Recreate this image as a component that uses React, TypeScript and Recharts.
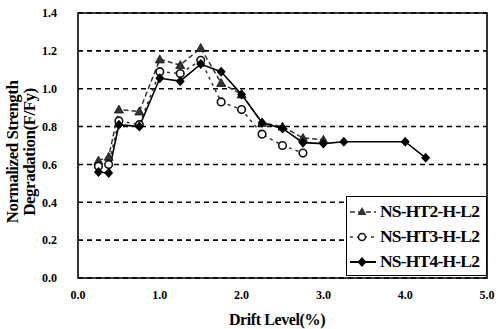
import React from "react";
import { LineChart, Line, XAxis, YAxis, CartesianGrid, ReferenceArea, Legend, Label } from "recharts";

const driftHT2 = [0.25, 0.375, 0.5, 0.75, 1.0, 1.25, 1.5, 1.75, 2.0, 2.25, 2.5, 2.75, 3.0];
const strengthHT2 = [0.62, 0.64, 0.89, 0.88, 1.155, 1.125, 1.215, 1.03, 0.97, 0.82, 0.8, 0.74, 0.73];

const driftHT3 = [0.25, 0.375, 0.5, 0.75, 1.0, 1.25, 1.5, 1.75, 2.0, 2.25, 2.5, 2.75];
const strengthHT3 = [0.59, 0.6, 0.83, 0.81, 1.09, 1.08, 1.15, 0.93, 0.89, 0.76, 0.7, 0.66];

const driftHT4 = [0.25, 0.375, 0.5, 0.75, 1.0, 1.25, 1.5, 1.75, 2.0, 2.25, 2.5, 2.75, 3.0, 3.25, 4.0, 4.25];
const strengthHT4 = [0.56, 0.555, 0.81, 0.8, 1.055, 1.04, 1.13, 1.09, 0.97, 0.82, 0.79, 0.715, 0.71, 0.72, 0.72, 0.635];

const xTicks = [0, 1, 2, 3, 4, 5];
const yTicks = [0, 0.2, 0.4, 0.6, 0.8, 1.0, 1.2, 1.4];

const seriesNames = ["NS-HT2-H-L2", "NS-HT3-H-L2", "NS-HT4-H-L2"];

const toPoints = (xs: number[], ys: number[]) => xs.map((x, i) => ({ x, y: ys[i] }));

const FONT = "'Liberation Serif', 'Times New Roman', serif";

const Triangle = (props: any) => {
  const { cx, cy } = props;
  if (cx == null || cy == null) return null;
  return <path d={`M${cx},${cy - 4.5} L${cx + 4.5},${cy + 3.5} L${cx - 4.5},${cy + 3.5} Z`} fill="#333" stroke="#111" strokeWidth={0.8} />;
};

const Circle = (props: any) => {
  const { cx, cy } = props;
  if (cx == null || cy == null) return null;
  return <circle cx={cx} cy={cy} r={3.8} fill="#fff" stroke="#111" strokeWidth={1.6} />;
};

const Diamond = (props: any) => {
  const { cx, cy } = props;
  if (cx == null || cy == null) return null;
  return <path d={`M${cx},${cy - 5} L${cx + 4.5},${cy} L${cx},${cy + 5} L${cx - 4.5},${cy} Z`} fill="#000" />;
};

function LegendBox() {
  const row = (i: number) => {
    const marker =
      i === 0 ? (
        <path d="M13,3 L17.5,11 L8.5,11 Z" fill="#333" />
      ) : i === 1 ? (
        <circle cx={13} cy={8} r={3.5} fill="#fff" stroke="#111" strokeWidth={1.5} />
      ) : (
        <path d="M13,3 L17.5,8 L13,13 L8.5,8 Z" fill="#000" />
      );
    const dash = i === 0 ? "5 3" : i === 1 ? "3 4" : undefined;
    return (
      <div key={i} style={{ display: "flex", alignItems: "center", height: 25 }}>
        <svg width={30} height={16} style={{ flex: "none" }}>
          <line x1={1} y1={8} x2={27} y2={8} stroke={i === 2 ? "#000" : "#333"} strokeWidth={i === 2 ? 2 : 1.5} strokeDasharray={dash} />
          {marker}
        </svg>
        <span style={{ fontFamily: FONT, fontWeight: "bold", fontSize: 17.5, letterSpacing: -0.8, color: "#000", marginLeft: 1, whiteSpace: "nowrap" }}>
          {seriesNames[i]}
        </span>
      </div>
    );
  };
  return (
    <div
      style={{
        boxSizing: "border-box",
        width: 141,
        height: 80,
        border: "1.5px solid #000",
        background: "#fff",
        padding: "2px 2px 0 2px",
        overflow: "hidden",
      }}
    >
      {row(0)}
      {row(1)}
      {row(2)}
    </div>
  );
}

export default function App() {
  return (
    <div style={{ position: "absolute", left: 0, top: 0, width: 498, height: 329, background: "#fff" }}>
      <LineChart width={498} height={329} margin={{ top: 13, right: 11, bottom: 0, left: 0 }}>
        <CartesianGrid vertical={false} stroke="#000" strokeWidth={1.6} strokeDasharray="5 4" />
        <XAxis
          type="number"
          dataKey="x"
          domain={[0, 5]}
          ticks={xTicks}
          tickFormatter={(v: number) => v.toFixed(1)}
          axisLine={false}
          tickLine={false}
          tickSize={0}
          tickMargin={12}
          height={51}
          tick={{ fill: "#000", fontFamily: FONT, fontWeight: "bold", fontSize: 12 }}
        >
          <Label
            content={() => (
              <text x={277} y={325} textAnchor="middle" fontFamily={FONT} fontWeight="bold" fontSize={16} letterSpacing={-0.4} fill="#000">
                Drift Level(%)
              </text>
            )}
          />
        </XAxis>
        <YAxis
          type="number"
          domain={[0, 1.4]}
          ticks={yTicks}
          tickFormatter={(v: number) => v.toFixed(1)}
          axisLine={false}
          tickLine={false}
          tickSize={0}
          tickMargin={21}
          width={78}
          tick={{ fill: "#000", fontFamily: FONT, fontWeight: "bold", fontSize: 12 }}
        >
          <Label
            content={() => (
              <g fontFamily={FONT} fontWeight="bold" fontSize={17} letterSpacing={-0.5} fill="#000">
                <text transform="translate(18,152) rotate(-90)" textAnchor="middle">
                  Normalized Strength
                </text>
                <text transform="translate(35,152) rotate(-90)" textAnchor="middle">
                  Degradation(F/Fy)
                </text>
              </g>
            )}
          />
        </YAxis>
        <ReferenceArea x1={0} x2={5} y1={0} y2={1.4} fill="none" fillOpacity={0} stroke="#000" strokeWidth={1.6} />
        <Line
          data={toPoints(driftHT2, strengthHT2)}
          dataKey="y"
          name={seriesNames[0]}
          stroke="#333"
          strokeWidth={1.5}
          strokeDasharray="5 3"
          dot={<Triangle />}
          isAnimationActive={false}
        />
        <Line
          data={toPoints(driftHT3, strengthHT3)}
          dataKey="y"
          name={seriesNames[1]}
          stroke="#333"
          strokeWidth={1.5}
          strokeDasharray="3 4"
          dot={<Circle />}
          isAnimationActive={false}
        />
        <Line
          data={toPoints(driftHT4, strengthHT4)}
          dataKey="y"
          name={seriesNames[2]}
          stroke="#000"
          strokeWidth={1.6}
          dot={<Diamond />}
          isAnimationActive={false}
        />
        <Legend
          layout="horizontal"
          verticalAlign="middle"
          align="center"
          content={() => <LegendBox />}
          wrapperStyle={{ position: "absolute", left: 346, top: 196, width: 141, height: 80 }}
        />
      </LineChart>
    </div>
  );
}
